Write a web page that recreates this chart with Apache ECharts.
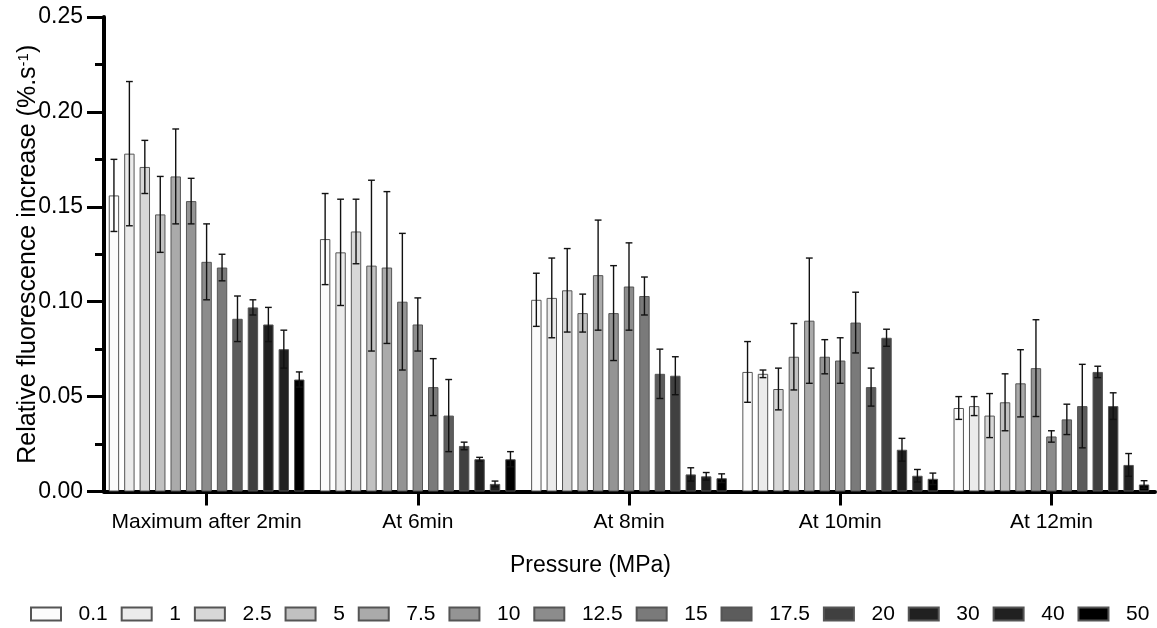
<!DOCTYPE html>
<html><head><meta charset="utf-8">
<script src="https://cdn.jsdelivr.net/npm/echarts@6/dist/echarts.min.js"></script>
<style>html,body{margin:0;padding:0;background:#fff}#c{width:1157px;height:628px}</style>
</head><body><div id="c"></div>
<script>
// ---- data ----
const categories = ['Maximum after 2min', 'At 6min', 'At 8min', 'At 10min', 'At 12min'];
const pressures = ['0.1', '1', '2.5', '5', '7.5', '10', '12.5', '15', '17.5', '20', '30', '40', '50'];

const mean2min  = [0.156, 0.178, 0.171, 0.146, 0.166, 0.153, 0.121, 0.118, 0.091, 0.097, 0.088, 0.075, 0.059];
const err2min   = [0.019, 0.038, 0.014, 0.020, 0.025, 0.012, 0.020, 0.007, 0.012, 0.004, 0.009, 0.010, 0.004];
const mean6min  = [0.133, 0.126, 0.137, 0.119, 0.118, 0.100, 0.088, 0.055, 0.040, 0.024, 0.017, 0.004, 0.017];
const err6min   = [0.024, 0.028, 0.017, 0.045, 0.040, 0.036, 0.014, 0.015, 0.019, 0.002, 0.001, 0.0015, 0.004];
const mean8min  = [0.101, 0.102, 0.106, 0.094, 0.114, 0.094, 0.108, 0.103, 0.062, 0.061, 0.009, 0.008, 0.007];
const err8min   = [0.014, 0.021, 0.022, 0.010, 0.029, 0.025, 0.023, 0.010, 0.013, 0.010, 0.0035, 0.002, 0.0023];
const mean10min = [0.063, 0.062, 0.054, 0.071, 0.090, 0.071, 0.069, 0.089, 0.055, 0.081, 0.022, 0.0083, 0.0067];
const err10min  = [0.016, 0.002, 0.011, 0.0175, 0.033, 0.009, 0.012, 0.016, 0.010, 0.0045, 0.006, 0.0033, 0.003];
const mean12min = [0.044, 0.045, 0.040, 0.047, 0.057, 0.065, 0.029, 0.038, 0.045, 0.063, 0.045, 0.014, 0.0037];
const err12min  = [0.006, 0.005, 0.0116, 0.015, 0.0177, 0.0255, 0.003, 0.008, 0.022, 0.003, 0.007, 0.006, 0.002];

const means = [mean2min, mean6min, mean8min, mean10min, mean12min];
const errs  = [err2min, err6min, err8min, err10min, err12min];

// ---- style ----
const fills = ['#fcfcfc', '#ebebeb', '#d7d7d7', '#c1c1c1', '#aaaaaa', '#949494', '#8c8c8c',
               '#7a7a7a', '#5c5c5c', '#404040', '#202020', '#202020', '#000000'];
const FONT = "'Liberation Sans', Arial, sans-serif";
const BW = 10.4;          // bar width px
const GAP = 0.485;        // gap between bars, fraction of bar width
const PITCH = BW * (1 + GAP);

const series = pressures.map((p, i) => ({
  name: p,
  type: 'bar',
  xAxisIndex: 0, yAxisIndex: 0,
  barWidth: BW,
  barGap: (GAP * 100) + '%',
  data: means.map(g => g[i]),
  itemStyle: { color: fills[i], borderColor: '#555', borderWidth: 1 },
  z: 2
}));

const errData = [];
means.forEach((g, c) => g.forEach((m, i) => errData.push([c, m, errs[c][i], i])));

series.push({
  type: 'custom',
  name: 'err',
  xAxisIndex: 0, yAxisIndex: 0,
  z: 5,
  data: errData,
  encode: { x: 0, y: 1 },
  renderItem: (params, api) => {
    const c = api.value(0), m = api.value(1), e = api.value(2), s = api.value(3);
    const off = (s - (pressures.length - 1) / 2) * PITCH;
    const hi = api.coord([c, m + e]);
    const lo = api.coord([c, m - e]);
    const x = hi[0] + off;
    const cap = 3.4;
    const st = { stroke: '#111', lineWidth: 1.4 };
    return {
      type: 'group',
      children: [
        { type: 'line', shape: { x1: x, y1: hi[1], x2: x, y2: lo[1] }, style: st },
        { type: 'line', shape: { x1: x - cap, y1: hi[1], x2: x + cap, y2: hi[1] }, style: st },
        { type: 'line', shape: { x1: x - cap, y1: lo[1], x2: x + cap, y2: lo[1] }, style: st }
      ]
    };
  }
});

const option = {
  backgroundColor: '#fff',
  animation: false,
  textStyle: { fontFamily: FONT, color: '#000' },
  grid: [
    { left: 101, right: -1, top: 17, bottom: 136.5 },
    { left: 104, right: 2, top: 17, bottom: 136.5 }
  ],
  legend: {
    data: pressures,
    left: 30, top: 603.5, width: 1125, padding: 0,
    icon: 'rect',
    itemWidth: 30, itemHeight: 13, itemGap: 12.9,
    formatter: n => '{g|}' + n,
    textStyle: { fontFamily: FONT, fontSize: 21, color: '#000', lineHeight: 21,
                 rich: { g: { width: 12.6, fontFamily: FONT, fontSize: 21 } } }
  },
  xAxis: [
    {
      gridIndex: 0, type: 'category', data: categories,
      axisLine: { show: false },
      axisTick: { show: true, alignWithLabel: true, interval: 0, length: 14, lineStyle: { width: 3, color: '#000' } },
      axisLabel: { interval: 0, fontSize: 21, margin: 20, color: '#000', fontFamily: FONT },
      name: 'Pressure (MPa)', nameLocation: 'middle', nameGap: 63,
      nameTextStyle: { fontSize: 23, color: '#000', fontFamily: FONT, padding: [0, 77, 0, 0] }
    },
    {
      gridIndex: 1, type: 'value', min: 0, max: 1,
      axisLine: { show: true, lineStyle: { width: 4, color: '#000' } },
      axisTick: { show: false }, axisLabel: { show: false }, splitLine: { show: false }
    }
  ],
  yAxis: [
    { gridIndex: 0, type: 'value', min: 0, max: 0.25, show: false, splitLine: { show: false } },
    {
      gridIndex: 1, type: 'value', min: 0, max: 0.25, interval: 0.05,
      axisLine: { show: true, lineStyle: { width: 4, color: '#000' } },
      axisTick: { show: true, length: 17, lineStyle: { width: 3, color: '#000' } },
      minorTick: { show: true, splitNumber: 2, length: 9, lineStyle: { width: 3, color: '#000' } },
      axisLabel: { fontSize: 23, margin: 21, color: '#000', fontFamily: FONT, formatter: v => v.toFixed(2) },
      splitLine: { show: false },
      name: 'Relative fluorescence increase (%.s{sup|-1})',
      nameLocation: 'middle', nameGap: 63, nameMoveOverlap: false,
      nameTextStyle: {
        fontSize: 25, color: '#000', fontFamily: FONT,
        rich: { sup: { fontSize: 15, verticalAlign: 'top', fontFamily: FONT, color: '#000' } }
      }
    }
  ],
  series
};

const chart = echarts.init(document.getElementById('c'), null, { renderer: 'canvas' });
chart.setOption(option);
</script>
</body></html>
